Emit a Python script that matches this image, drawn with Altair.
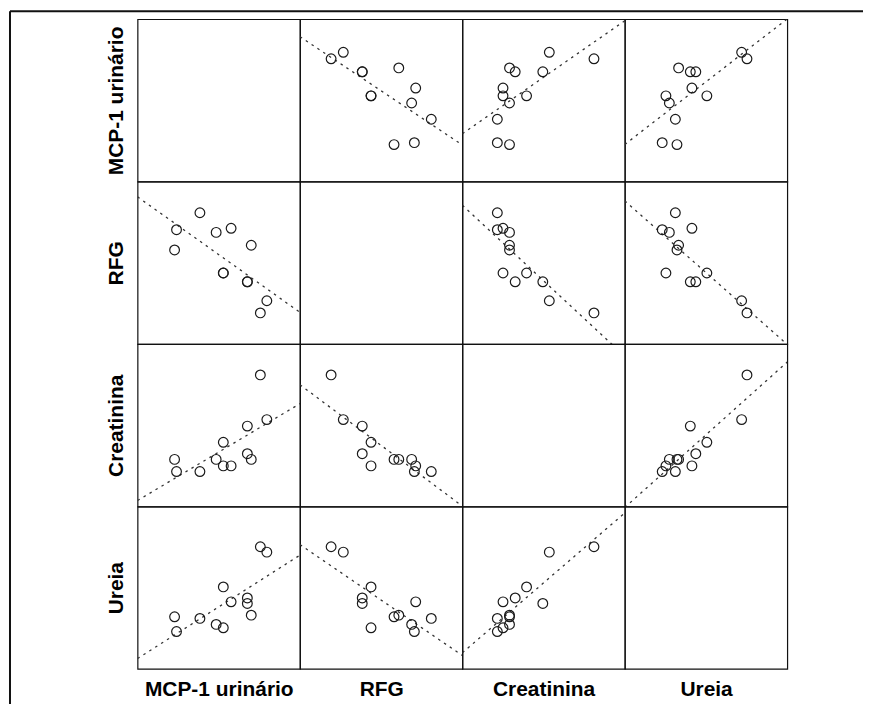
import altair as alt
import pandas as pd

# Variables (12 subjects), values
variables = ["mcp", "rfg", "creat", "ureia"]
titles = ["MCP-1 urinário", "RFG", "Creatinina", "Ureia"]

mcp = [114, 120, 192, 242, 264, 264, 288, 338, 338, 350, 378, 398]
rfg = [69.5, 84.5, 97, 82.5, 52.5, 52.5, 85.5, 46, 46, 73, 23, 32]
creat = [0.98, 0.83, 0.83, 0.98, 1.19, 0.90, 0.90, 1.39, 1.05, 0.98, 2.02, 1.47]
ureia = [42.1, 33, 41.1, 37.4, 60.5, 35.3, 51.3, 50.3, 53.7, 43.1, 85.2, 81.9]

domains = {
    "mcp": [0, 500],
    "rfg": [0, 120],
    "creat": [0.4, 2.4],
    "ureia": [10, 110],
}

df = pd.DataFrame({"mcp": mcp, "rfg": rfg, "creat": creat, "ureia": ureia})
frame_df = pd.DataFrame({"k": [0]})

FONT = "Liberation Sans"
CELL = 163


def axis(title, pad):
    return alt.Axis(
        title=title, labels=False, ticks=False, domain=False, grid=False,
        titleFont=FONT, titleFontSize=21, titleFontWeight="bold",
        titleColor="#000", titlePadding=pad,
    )


cells = []
for i, yv in enumerate(variables):
    for j, xv in enumerate(variables):
        xenc = alt.X(
            f"{xv}:Q",
            scale=alt.Scale(domain=domains[xv], nice=False, zero=False),
            axis=axis(titles[j], 10) if i == 3 else None,
        )
        yenc = alt.Y(
            f"{yv}:Q",
            scale=alt.Scale(domain=domains[yv], nice=False, zero=False),
            axis=axis(titles[i], 11) if j == 0 else None,
        )
        base = alt.Chart(df).encode(x=xenc, y=yenc)
        if i == j:
            layers = [base.mark_point(opacity=0)]
        else:
            line = base.transform_regression(
                xv, yv, extent=domains[xv]
            ).mark_line(
                strokeDash=[2.5, 4.5], color="#333", strokeWidth=1.3, clip=True
            )
            pts = base.mark_point(
                shape="circle", filled=False, size=95,
                color="#1a1a1a", strokeWidth=1.2, opacity=1,
            )
            layers = [line, pts]
        if i == 0 and j == 0:
            left_rule = alt.Chart(frame_df).mark_rule(
                color="#111", strokeWidth=2
            ).encode(x=alt.value(-128), y=alt.value(-8), y2=alt.value(690))
            top_rule = alt.Chart(frame_df).mark_rule(
                color="#111", strokeWidth=2
            ).encode(x=alt.value(-128), x2=alt.value(728), y=alt.value(-8))
            layers = layers + [left_rule, top_rule]
        cells.append(alt.layer(*layers).properties(width=CELL, height=CELL))

chart = (
    alt.concat(*cells, columns=4, spacing=0, bounds="flush")
    .resolve_scale(x="independent", y="independent")
    .properties(padding=0, background="white")
    .configure_view(stroke="#111", strokeWidth=1.2)
)

chart.save("out.html", embed_options={"renderer": "svg", "actions": False})
